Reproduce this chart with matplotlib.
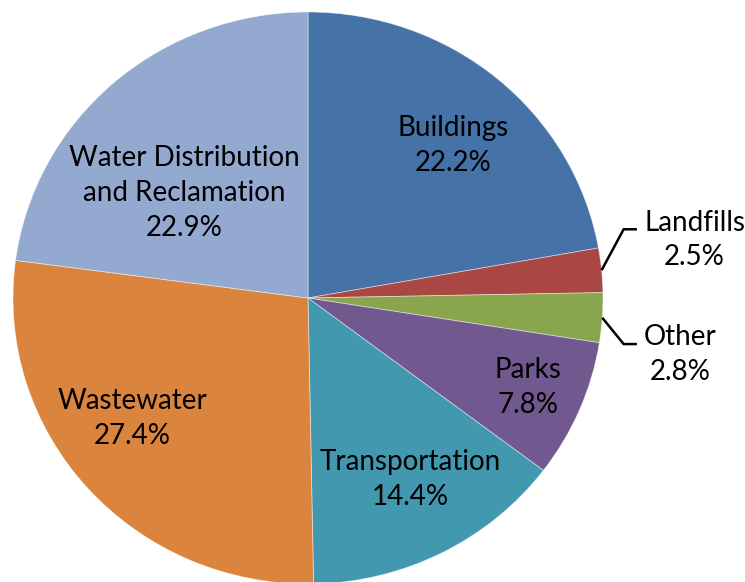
import matplotlib
matplotlib.use("Agg")
import matplotlib.pyplot as plt
import numpy as np

categories = ["Buildings", "Landfills", "Other", "Parks", "Transportation",
              "Wastewater", "Water Distribution\nand Reclamation"]
values = [22.2, 2.5, 2.8, 7.8, 14.4, 27.4, 22.9]
colors = ["#4572A7", "#AA4643", "#89A54E", "#71588F", "#4198AF", "#DB843D", "#93A9CF"]

plt.rcParams['font.family'] = ['Lato', 'DejaVu Sans']

W, H = 745, 582
fig = plt.figure(figsize=(W / 100, H / 100), dpi=100)
ax = fig.add_axes([0, 0, 1, 1])

wedges, _ = ax.pie(values, colors=colors, startangle=90, counterclock=False,
                   radius=1, center=(0, 0), normalize=True,
                   wedgeprops=dict(edgecolor=(1, 1, 1, 0.5), linewidth=0.6))

# pixel geometry of the ellipse
cx, cy, rx, ry = 308, 298, 295, 286
ax.set_xlim(-cx / rx, (W - cx) / rx)
ax.set_ylim(-(H - cy) / ry, cy / ry)
ax.set_aspect('auto')
ax.axis('off')

fs = 20
ls = 1.42
# (radius, angular shift in degrees) for the last-line baseline of inside labels
inner_pos = {"Buildings": (0.664, -8.0), "Parks": (0.848, -5.3),
             "Transportation": (0.802, -1.5), "Wastewater": (0.784, -1.2),
             "Water Distribution\nand Reclamation": (0.473, 21.5)}
outer_dy = {"Landfills": 0.143, "Other": -0.092}
line_pitch = 0.126

for w, cat, v in zip(wedges, categories, values):
    midd = (w.theta1 + w.theta2) / 2
    label = f"{cat}\n{v:.1f}%"
    if cat in inner_pos:
        r, sh = inner_pos[cat]
        a = np.deg2rad(midd + sh)
        ax.text(r * np.cos(a), r * np.sin(a), label, ha='center', va='baseline',
                fontsize=fs, color='black', linespacing=ls, multialignment='center')
    else:
        mid = np.deg2rad(midd)
        px, py = np.cos(mid), np.sin(mid)
        ex, ey = 1.07, py + outer_dy[cat]
        endx = 1.115
        ax.plot([px, ex, endx], [py, ey, ey], color='black', lw=1.8,
                solid_joinstyle='miter', solid_capstyle='butt', clip_on=False)
        ax.text(endx + 0.024, ey - line_pitch, label, ha='left', va='baseline',
                fontsize=fs, color='black', linespacing=ls, multialignment='center')

fig.savefig("out.png", dpi=100)
